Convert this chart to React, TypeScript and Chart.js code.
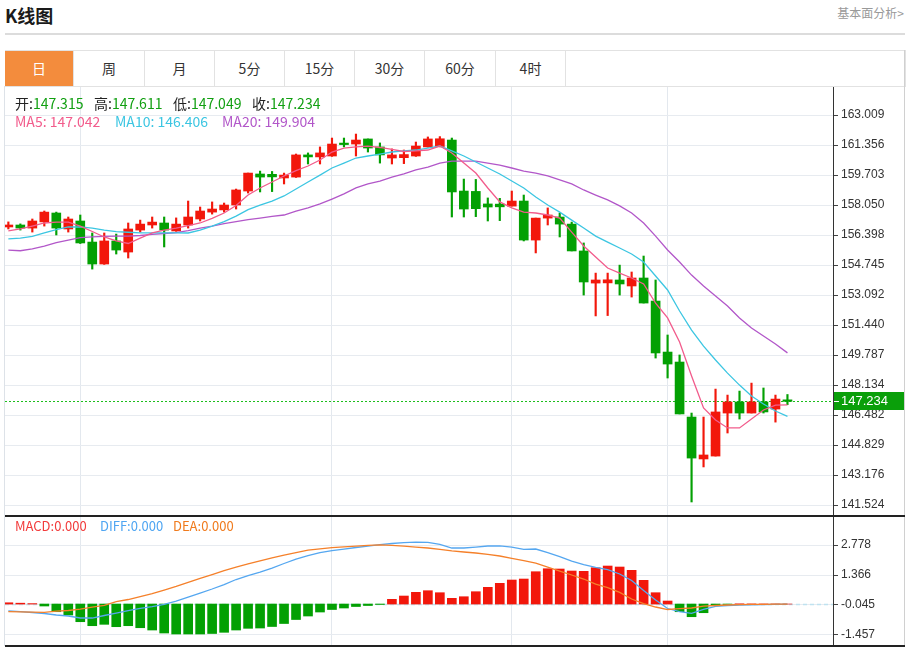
import React, { useEffect, useRef } from "react";
import { Chart, registerables } from "chart.js";

Chart.register(...registerables);

const FONT = "'Noto Sans CJK SC', 'Noto Sans', sans-serif";
const AXIS_FONT = "'Liberation Sans', Arial, sans-serif";

// ---- data ----
const OPEN = [
  156.84, 156.95, 156.78, 157.12, 157.61, 156.73, 157.17, 156.01, 154.8, 156.07,
  155.46, 156.67, 156.95, 157.06, 156.62, 156.95, 157.28, 157.66, 157.78, 158.05,
  158.82, 159.76, 159.74, 159.54, 159.59, 160.81, 160.7, 160.75, 161.46, 161.41,
  161.69, 161.25, 160.64, 160.66, 160.75, 161.25, 161.27, 161.63, 158.82, 158.8,
  158.11, 158.1, 157.99, 158.27, 156.12, 157.33, 157.39, 157.0, 155.52, 153.75,
  153.76, 153.92, 153.59, 154.03, 152.76, 149.95, 149.4, 146.37, 144.06, 144.22,
  146.59, 147.2, 146.59, 147.2, 146.81, 147.315,
];
const HIGH = [
  157.12, 157.01, 157.28, 157.72, 157.66, 157.39, 157.5, 156.51, 156.51, 156.45,
  157.06, 157.22, 157.39, 157.39, 157.34, 158.27, 157.94, 158.22, 158.16, 158.93,
  159.81, 159.92, 159.9, 159.81, 160.86, 160.92, 161.25, 161.74, 161.74, 161.96,
  161.69, 161.47, 161.14, 161.08, 161.52, 161.8, 161.82, 161.74, 159.48, 159.46,
  158.44, 158.42, 158.82, 158.6, 157.33, 157.89, 157.61, 157.11, 155.96, 154.3,
  154.3, 154.74, 154.36, 155.24, 153.92, 150.89, 149.79, 146.59, 146.37, 147.91,
  147.58, 147.8, 148.24, 147.97, 147.58, 147.611,
];
const LOW = [
  156.73, 156.67, 156.56, 156.89, 156.4, 156.56, 155.93, 154.52, 154.78, 155.35,
  155.13, 156.56, 156.78, 155.74, 156.6, 156.78, 157.17, 157.55, 157.66, 157.83,
  158.71, 158.77, 158.79, 159.21, 159.57, 160.31, 160.31, 160.73, 161.25, 160.75,
  160.97, 160.36, 160.31, 160.33, 160.73, 161.24, 161.25, 157.39, 157.39, 157.41,
  157.17, 157.19, 157.99, 156.07, 155.41, 156.95, 156.29, 155.52, 153.09, 151.94,
  151.96, 153.09, 152.98, 152.65, 149.62, 148.52, 146.54, 141.69, 143.62, 144.22,
  145.49, 146.26, 146.59, 146.59, 146.09, 147.049,
];
const CLOSE = [
  156.95, 156.78, 157.17, 157.66, 156.78, 157.28, 155.96, 154.8, 156.07, 155.57,
  156.73, 157.0, 157.11, 156.67, 157.0, 157.39, 157.72, 157.83, 158.05, 158.88,
  159.81, 159.59, 159.6, 159.7, 160.81, 160.7, 160.92, 161.41, 161.38, 161.63,
  161.19, 160.81, 160.81, 160.83, 161.3, 161.69, 161.7, 158.77, 157.83, 157.85,
  157.94, 157.95, 158.27, 156.12, 157.33, 157.5, 157.0, 155.52, 153.81, 153.92,
  153.93, 153.7, 154.03, 152.65, 149.9, 149.29, 146.54, 144.11, 144.28, 146.65,
  147.2, 146.59, 147.2, 146.65, 147.36, 147.234,
];
const MA5 = [
  156.62, 156.73, 156.89, 157.06, 157.11, 157.11, 156.89, 156.59, 156.29, 156.07,
  155.93, 156.23, 156.51, 156.67, 156.78, 156.92, 157.06, 157.31, 157.61, 158.02,
  158.6, 158.99, 159.32, 159.65, 159.95, 160.2, 160.53, 160.97, 161.19, 161.25,
  161.3, 161.22, 161.11, 161.0, 161.03, 161.08, 161.3, 160.92, 160.36, 159.81,
  158.99, 158.22, 157.89, 157.66, 157.61, 157.5, 157.33, 156.56, 155.79, 155.19,
  154.58, 154.3, 154.03, 153.7, 152.65, 151.83, 150.5, 148.63, 146.87, 146.21,
  145.77, 145.77, 146.26, 146.76, 147.03, 147.042,
];
const MA10 = [
  156.18, 156.23, 156.32, 156.51, 156.7, 156.84, 156.85, 156.78, 156.67, 156.59,
  156.55, 156.52, 156.52, 156.52, 156.52, 156.51, 156.67, 156.89, 157.14, 157.44,
  157.8, 158.05, 158.27, 158.55, 158.93, 159.32, 159.7, 160.09, 160.36, 160.64,
  160.75, 160.86, 160.97, 161.03, 161.08, 161.19, 161.3, 161.03, 160.75, 160.42,
  160.09, 159.76, 159.37, 158.99, 158.49, 158.05, 157.66, 157.22, 156.78, 156.34,
  156.01, 155.68, 155.35, 154.91, 154.14, 153.37, 152.21, 151.16, 150.28, 149.51,
  148.79, 148.13, 147.53, 147.09, 146.7, 146.406,
];
const MA20 = [
  155.57, 155.53, 155.63, 155.79, 155.98, 156.12, 156.25, 156.29, 156.32, 156.34,
  156.34, 156.37, 156.43, 156.48, 156.53, 156.64, 156.78, 156.89, 157.03, 157.14,
  157.25, 157.33, 157.42, 157.5, 157.72, 157.89, 158.11, 158.38, 158.66, 158.99,
  159.21, 159.37, 159.59, 159.76, 159.98, 160.14, 160.36, 160.47, 160.47, 160.47,
  160.36, 160.25, 160.09, 159.92, 159.81, 159.65, 159.43, 159.21, 158.88, 158.6,
  158.33, 158.0, 157.61, 157.06, 156.34, 155.57, 154.91, 154.19, 153.59, 153.04,
  152.49, 151.83, 151.27, 150.83, 150.39, 149.904,
];
const MACD_HIST = [
  0.06, 0.04, 0.02, -0.093, -0.362, -0.517, -0.832, -1.02, -0.955, -1.067,
  -1.02, -1.115, -1.223, -1.364, -1.411, -1.411, -1.411, -1.387, -1.331, -1.223,
  -1.143, -1.129, -1.058, -0.917, -0.729, -0.564, -0.376, -0.258, -0.187, -0.117,
  -0.07, -0.02, 0.222, 0.377, 0.551, 0.627, 0.533, 0.269, 0.344, 0.58,
  0.787, 0.975, 1.13, 1.177, 1.521, 1.662, 1.648, 1.554, 1.54, 1.709,
  1.789, 1.742, 1.587, 1.116, 0.533, 0.142, -0.362, -0.597, -0.409, -0.05,
  -0.02, 0.01, 0.005, 0.003, 0.002, 0.0,
];
const DIFF = [
  -0.319, -0.357, -0.399, -0.446, -0.517, -0.564, -0.658, -0.658, -0.54, -0.423,
  -0.305, -0.202, -0.117, -0.013, 0.142, 0.33, 0.518, 0.707, 0.918, 1.154,
  1.342, 1.507, 1.695, 1.907, 2.118, 2.283, 2.415, 2.509, 2.589, 2.66,
  2.73, 2.796, 2.848, 2.886, 2.918, 2.904, 2.81, 2.636, 2.636, 2.683,
  2.73, 2.74, 2.683, 2.575, 2.589, 2.424, 2.236, 2.024, 1.86, 1.728,
  1.624, 1.413, 1.107, 0.636, 0.189, -0.211, -0.362, -0.437, -0.249, -0.107,
  -0.07, -0.046, -0.037, -0.028, -0.018, 0.0,
];
const DEA = [
  -0.362, -0.371, -0.385, -0.39, -0.338, -0.305, -0.235, -0.15, -0.06, 0.109,
  0.213, 0.354, 0.495, 0.66, 0.834, 1.022, 1.21, 1.389, 1.568, 1.742,
  1.893, 2.034, 2.175, 2.307, 2.424, 2.542, 2.598, 2.65, 2.693, 2.726,
  2.763, 2.787, 2.759, 2.73, 2.683, 2.636, 2.575, 2.504, 2.448, 2.401,
  2.34, 2.26, 2.151, 2.038, 1.93, 1.742, 1.554, 1.366, 1.177, 0.942,
  0.777, 0.551, 0.236, 0.024, -0.14, -0.258, -0.22, -0.187, -0.103, -0.07,
  -0.046, -0.027, -0.018, -0.013, -0.008, 0.0,
];
const PRICE_TICKS = [
  163.009, 161.356, 159.703, 158.05, 156.398, 154.745, 153.092, 151.44, 149.787,
  148.134, 146.482, 144.829, 143.176, 141.524,
];
const MACD_TICKS = [2.778, 1.366, -0.045, -1.457];
const GRID_INDEX = [6, 27, 42, 55];
const TABS = ["日", "周", "月", "5分", "15分", "30分", "60分", "4时"];

// ---- styling ----
const RED = "#f2170b";
const GREEN = "#03a003";
const C_MA5 = "#f25c8c";
const C_MA10 = "#3cc6e2";
const C_MA20 = "#b257c9";
const C_DIFF = "#55a7f0";
const C_DEA = "#f5802a";

const X_MIN = -0.28;
const X_MAX = 68.8;

const IDX = CLOSE.map((_, i) => i);

function xAxis() {
  return {
    type: "linear" as const,
    min: X_MIN,
    max: X_MAX,
    offset: false,
    afterFit: (s: any) => {
      s.height = 0;
      s.paddingLeft = 0;
      s.paddingRight = 0;
    },
    afterBuildTicks: (s: any) => {
      s.ticks = GRID_INDEX.map((v) => ({ value: v }));
    },
    ticks: { display: false },
    grid: { color: "#e3e8ee", drawTicks: false, offset: false, lineWidth: 1 },
    border: { display: false },
  };
}

function yAxis(min: number, max: number, ticks: number[]) {
  return {
    position: "right" as const,
    min,
    max,
    afterFit: (s: any) => {
      s.width = 72;
      s.paddingTop = 0;
      s.paddingBottom = 0;
    },
    afterBuildTicks: (s: any) => {
      s.ticks = ticks.map((v) => ({ value: v }));
    },
    ticks: {
      callback: (v: any) => Number(v).toFixed(3),
      color: "#333",
      font: { size: 12, family: AXIS_FONT },
      padding: 3,
      autoSkip: false,
    },
    grid: { color: "#e7ebf0", tickColor: "#444", tickLength: 5, lineWidth: 1 },
    border: { display: true, color: "#333", width: 1 },
  };
}

const lastPricePlugin = {
  id: "lastPrice",
  beforeDatasetsDraw(chart: any) {
    const { ctx, chartArea, scales } = chart;
    const last = CLOSE[CLOSE.length - 1];
    const y = Math.round(scales.y.getPixelForValue(last));
    ctx.save();
    ctx.fillStyle = "#1cbf1c";
    for (let x = chartArea.left; x < chartArea.right; x += 4) {
      ctx.fillRect(x, y, 2, 1);
    }
    ctx.restore();
  },
  afterDraw(chart: any) {
    const { ctx, chartArea, scales, width } = chart;
    const last = CLOSE[CLOSE.length - 1];
    const y = scales.y.getPixelForValue(last);
    ctx.save();
    ctx.fillStyle = "#0a9f0a";
    ctx.fillRect(chartArea.right + 1, Math.round(y) - 9, width - chartArea.right - 1, 18);
    ctx.strokeStyle = "#ffffff";
    ctx.lineWidth = 1;
    ctx.beginPath();
    ctx.moveTo(chartArea.right + 1, Math.round(y) + 0.5);
    ctx.lineTo(chartArea.right + 6, Math.round(y) + 0.5);
    ctx.stroke();
    ctx.fillStyle = "#ffffff";
    ctx.font = `13px ${AXIS_FONT}`;
    ctx.textBaseline = "middle";
    ctx.textAlign = "left";
    ctx.fillText(last.toFixed(3), chartArea.right + 8, Math.round(y) + 0.5);
    ctx.restore();
  },
};

const zeroLinePlugin = {
  id: "zeroLine",
  beforeDatasetsDraw(chart: any) {
    const { ctx, chartArea, scales } = chart;
    const y = Math.round(scales.y.getPixelForValue(0)) + 0.5;
    ctx.save();
    ctx.strokeStyle = "#bfe2f0";
    ctx.lineWidth = 1.5;
    ctx.setLineDash([4, 3]);
    ctx.beginPath();
    ctx.moveTo(chartArea.left, y);
    ctx.lineTo(chartArea.right, y);
    ctx.stroke();
    ctx.restore();
  },
};

const baseOptions = {
  animation: false as const,
  responsive: false,
  maintainAspectRatio: false,
  events: [] as any[],
  layout: { padding: 0 },
  plugins: { legend: { display: false }, tooltip: { enabled: false } },
};

function lineSet(data: number[], color: string, width = 1.2) {
  return {
    type: "line" as const,
    data: IDX.map((i) => ({ x: i, y: data[i] })),
    borderColor: color,
    borderWidth: width,
    pointRadius: 0,
    tension: 0,
    fill: false,
  };
}

function PriceChart() {
  const ref = useRef<HTMLCanvasElement>(null);
  useEffect(() => {
    const colors = IDX.map((i) => (CLOSE[i] >= OPEN[i] ? RED : GREEN));
    const chart = new Chart(ref.current as HTMLCanvasElement, {
      type: "line",
      data: {
        datasets: [
          lineSet(MA5, C_MA5, 1.3),
          lineSet(MA10, C_MA10, 1.3),
          lineSet(MA20, C_MA20, 1.3),
          {
            type: "bar" as const,
            data: IDX.map((i) => ({ x: i, y: [OPEN[i], CLOSE[i]] })) as any,
            backgroundColor: colors,
            barThickness: 9,
            minBarLength: 1.5,
            grouped: false,
            borderWidth: 0,
          },
          {
            type: "bar" as const,
            data: IDX.map((i) => ({ x: i, y: [LOW[i], HIGH[i]] })) as any,
            backgroundColor: colors,
            barThickness: 1.5,
            grouped: false,
            borderWidth: 0,
          },
        ] as any,
      },
      options: {
        ...baseOptions,
        scales: {
          x: xAxis(),
          y: yAxis(140.918, 164.552, PRICE_TICKS),
        },
      } as any,
      plugins: [lastPricePlugin],
    });
    return () => chart.destroy();
  }, []);
  return (
    <canvas
      ref={ref}
      width={900}
      height={429}
      style={{ position: "absolute", left: 5, top: 87, width: 900, height: 429 }}
    />
  );
}

function MacdChart() {
  const ref = useRef<HTMLCanvasElement>(null);
  useEffect(() => {
    const chart = new Chart(ref.current as HTMLCanvasElement, {
      type: "line",
      data: {
        datasets: [
          lineSet(DEA, C_DEA, 1.3),
          lineSet(DIFF, C_DIFF, 1.3),
          {
            type: "bar" as const,
            data: IDX.map((i) => ({ x: i, y: MACD_HIST[i] })) as any,
            backgroundColor: IDX.map((i) => (MACD_HIST[i] >= 0 ? RED : GREEN)),
            barThickness: 9,
            grouped: false,
            borderWidth: 0,
          },
        ] as any,
      },
      options: {
        ...baseOptions,
        scales: {
          x: xAxis(),
          y: yAxis(-1.928, 4.143, MACD_TICKS),
        },
      } as any,
      plugins: [zeroLinePlugin],
    });
    return () => chart.destroy();
  }, []);
  return (
    <canvas
      ref={ref}
      width={900}
      height={129}
      style={{ position: "absolute", left: 5, top: 516, width: 900, height: 129 }}
    />
  );
}

export default function App() {
  const n = CLOSE.length - 1;
  const tabEdges = [5, 74, 145, 215, 285, 355, 425, 496, 566];
  const ohlc = [
    { label: "开:", value: OPEN[n], left: 15 },
    { label: "高:", value: HIGH[n], left: 94 },
    { label: "低:", value: LOW[n], left: 173 },
    { label: "收:", value: CLOSE[n], left: 252 },
  ];
  const mas = [
    { label: "MA5: ", value: MA5[n], color: C_MA5, left: 15 },
    { label: "MA10: ", value: MA10[n], color: C_MA10, left: 115 },
    { label: "MA20: ", value: MA20[n], color: C_MA20, left: 222 },
  ];
  const macdLabels = [
    { label: "MACD:", value: MACD_HIST[n], color: "#f23a3a", left: 15 },
    { label: "DIFF:", value: DIFF[n], color: "#4ea5f2", left: 100 },
    { label: "DEA:", value: DEA[n], color: "#f07a1c", left: 173 },
  ];
  return (
    <div
      style={{
        position: "fixed",
        left: 0,
        top: 0,
        width: 909,
        height: 649,
        background: "#fff",
        fontFamily: FONT,
        overflow: "hidden",
      }}
    >
      <div
        style={{
          position: "absolute",
          left: 5,
          top: 2,
          fontSize: 18,
          fontWeight: 700,
          color: "#1a1a1a",
          lineHeight: "26px",
        }}
      >
        K线图
      </div>
      <div
        style={{
          position: "absolute",
          right: 5,
          top: 5,
          fontSize: 12,
          color: "#999",
          lineHeight: "16px",
        }}
      >
        基本面分析&gt;
      </div>
      <div style={{ position: "absolute", left: 5, top: 33, width: 900, height: 2, background: "#dcdcdc" }} />

      {/* tab row */}
      <div
        style={{
          position: "absolute",
          left: 5,
          top: 50,
          width: 899,
          height: 35,
          borderTop: "1px solid #e2e2e2",
          borderBottom: "1px solid #e2e2e2",
          borderRight: "1px solid #e2e2e2",
          borderLeft: "1px solid #e2e2e2",
        }}
      />
      {TABS.map((t, i) => (
        <div
          key={t}
          style={{
            position: "absolute",
            left: tabEdges[i],
            top: 51,
            width: tabEdges[i + 1] - tabEdges[i] - 1,
            height: 35,
            borderRight: "1px solid #e2e2e2",
            background: i === 0 ? "#f38c3d" : "transparent",
            color: i === 0 ? "#fff" : "#333",
            fontSize: 14,
            lineHeight: "35px",
            textAlign: "center",
          }}
        >
          {t}
        </div>
      ))}

      <PriceChart />
      <MacdChart />

      {/* frame lines */}
      <div style={{ position: "absolute", left: 4, top: 86, width: 1, height: 560, background: "#dde2e8" }} />
      <div style={{ position: "absolute", left: 904, top: 50, width: 1, height: 596, background: "#d0d0d0" }} />
      <div style={{ position: "absolute", left: 5, top: 515, width: 900, height: 1.5, background: "#222" }} />
      <div style={{ position: "absolute", left: 5, top: 645, width: 900, height: 1.5, background: "#222" }} />

      {/* price info text */}
      {ohlc.map((o) => (
        <div
          key={o.label}
          style={{
            position: "absolute",
            left: o.left,
            top: 95,
            fontSize: 14,
            lineHeight: "16px",
            whiteSpace: "nowrap",
          }}
        >
          <span style={{ color: "#222" }}>{o.label}</span>
          <span style={{ color: "#12a012" }}>{o.value.toFixed(3)}</span>
        </div>
      ))}
      {mas.map((m) => (
        <div
          key={m.label}
          style={{
            position: "absolute",
            left: m.left,
            top: 113,
            fontSize: 14,
            lineHeight: "16px",
            color: m.color,
            whiteSpace: "nowrap",
          }}
        >
          {m.label}
          {m.value.toFixed(3)}
        </div>
      ))}
      {macdLabels.map((m) => (
        <div
          key={m.label}
          style={{
            position: "absolute",
            left: m.left,
            top: 518,
            fontSize: 13,
            lineHeight: "16px",
            color: m.color,
            whiteSpace: "nowrap",
          }}
        >
          {m.label}
          {m.value.toFixed(3)}
        </div>
      ))}
    </div>
  );
}
